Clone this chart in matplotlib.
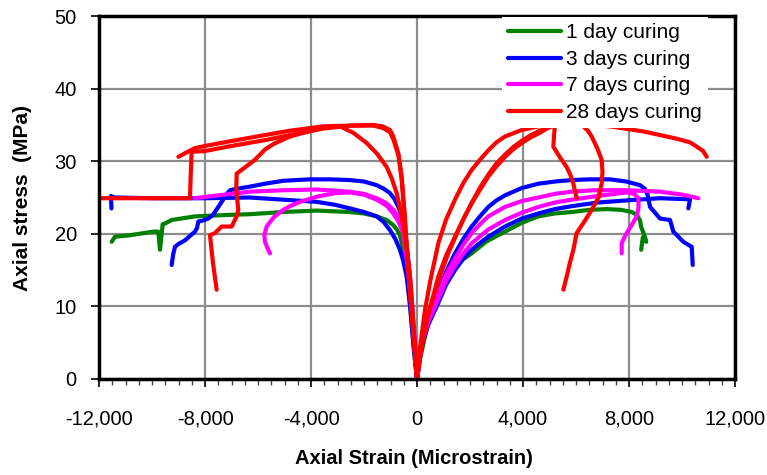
import matplotlib
matplotlib.use("Agg")
import matplotlib.pyplot as plt
from matplotlib.ticker import MultipleLocator, FuncFormatter

# ---- Stress-strain data (strain in microstrain, stress in MPa) ----
# Negative strain = lateral, positive strain = axial

# 1 day curing
d1_lat_strain = [0, -60, -138, -260, -390, -520, -642, -760, -893, -1150, -1522, -2000,
                 -2529, -3786, -5046, -6302, -7121, -8378, -9258, -9520, -9597, -9699,
                 -9762, -9950, -10832, -11397, -11523]
d1_lat_stress = [0, 2.0, 4.9, 10.2, 15.0, 17.8, 19.8, 20.6, 21.2, 21.9, 22.4, 22.8,
                 23.0, 23.2, 23.0, 22.7, 22.6, 22.4, 21.9, 21.4, 21.3, 17.8,
                 20.3, 20.3, 19.8, 19.6, 18.9]
d1_ax_strain = [0, 100, 250, 400, 600, 900, 1200, 1434, 1750, 2063, 2600, 3321, 3950,
                4579, 5200, 5837, 6500, 7159, 7700, 8103, 8300, 8420, 8454, 8600, 8650,
                8520, 8460]
d1_ax_stress = [0, 2.5, 5.0, 7.5, 10.0, 12.8, 14.6, 15.5, 16.5, 17.3, 18.9, 20.3, 21.5,
                22.4, 22.8, 23.0, 23.3, 23.4, 23.3, 23.0, 22.6, 21.8, 21.0, 19.6, 18.9,
                19.5, 17.8]

# 3 days curing (two specimens)
d3a_lat_strain = [0, -60, -138, -230, -328, -420, -516, -605, -705, -850, -1019, -1250,
                  -1522, -2000, -2529, -3300, -4038, -5046, -5737, -6302, -6800, -7058,
                  -7150, -7246, -7498, -7700, -7876, -8100, -8253, -8300, -8378, -8600,
                  -8756, -9000, -9133, -9200, -9258]
d3a_lat_stress = [0, 3.0, 7.2, 12.0, 16.4, 19.2, 21.4, 22.7, 23.7, 24.8, 25.6, 26.2,
                  26.7, 27.2, 27.4, 27.5, 27.5, 27.3, 26.9, 26.5, 26.2, 26.0,
                  25.6, 25.1, 23.7, 22.6, 22.1, 21.8, 21.7, 20.8, 20.3, 19.6,
                  19.1, 18.6, 18.2, 17.2, 15.7]
d3b_lat_strain = [0, -60, -138, -260, -390, -520, -642, -820, -1019, -1250, -1522, -2000,
                  -2529, -3100, -3786, -5046, -6302, -8000, -10000, -11400, -11548, -11530]
d3b_lat_stress = [0, 2.0, 4.9, 10.0, 14.1, 16.3, 17.8, 19.3, 20.5, 21.6, 22.4, 23.0,
                  23.5, 24.0, 24.4, 24.7, 25.0, 24.9, 24.9, 25.0, 25.2, 23.5]
d3a_ax_strain = [0, 176, 428, 805, 1100, 1434, 1750, 2063, 2400, 2692, 3000, 3321, 3950,
                 4579, 5200, 5837, 6500, 7284, 7900, 8416, 8600, 8700, 8794, 9171, 9548,
                 9673, 10050, 10367, 10405]
d3a_ax_stress = [0, 5.2, 8.5, 11.8, 14.8, 17.3, 19.3, 21.0, 22.5, 23.7, 24.6, 25.3, 26.3,
                 26.9, 27.2, 27.4, 27.5, 27.5, 27.2, 26.7, 26.2, 25.4, 23.7, 22.1, 21.9,
                 20.3, 18.9, 18.2, 15.7]
d3b_ax_strain = [0, 176, 428, 805, 1100, 1434, 1750, 2063, 2400, 2692, 3321, 3950, 4579,
                 5200, 5837, 6800, 7914, 9171, 10303, 10239]
d3b_ax_stress = [0, 4.5, 7.5, 10.5, 13.0, 15.0, 16.6, 17.8, 18.8, 19.6, 21.0, 22.1, 22.8,
                 23.4, 23.8, 24.3, 24.6, 24.9, 24.75, 23.5]

# 7 days curing (two specimens)
d7a_lat_strain = [0, -100, -200, -300, -390, -480, -579, -720, -893, -1150, -1522, -2000,
                  -2529, -3786, -5046, -6302, -7500, -8400]
d7a_lat_stress = [0, 5.0, 9.5, 13.4, 16.4, 19.0, 21.0, 22.4, 23.3, 24.2, 24.9, 25.5,
                  25.8, 26.1, 26.0, 25.8, 25.3, 24.9]
d7b_lat_strain = [0, -130, -264, -390, -516, -700, -893, -1150, -1522, -2000, -2529,
                  -3100, -3786, -4416, -4800, -5046, -5400, -5674, -5760, -5737, -5640,
                  -5548]
d7b_lat_stress = [0, 7.5, 14.1, 17.6, 20.1, 21.7, 22.8, 23.9, 24.7, 25.4, 25.7,
                  25.6, 25.1, 24.4, 23.8, 23.3, 22.3, 21.0, 19.8, 18.9, 18.0, 17.3]
d7a_ax_strain = [0, 176, 428, 805, 1100, 1434, 1750, 2063, 2400, 2692, 3321, 3950, 4579,
                 5200, 5837, 6654, 7914, 9171, 10000, 10617]
d7a_ax_stress = [0, 5.0, 8.3, 11.8, 14.4, 16.6, 18.5, 20.1, 21.4, 22.4, 23.7, 24.5, 25.0,
                 25.5, 25.8, 26.0, 26.0, 25.8, 25.4, 24.9]
d7b_ax_strain = [0, 176, 428, 805, 1100, 1434, 1750, 2063, 2692, 3321, 3950, 4579, 5200,
                 5837, 7000, 7914, 8200, 8353, 8360, 8290, 8100, 7914, 7800, 7725, 7725]
d7b_ax_stress = [0, 4.8, 7.9, 11.0, 13.5, 15.6, 17.3, 18.7, 20.6, 21.9, 22.9, 23.7, 24.3,
                 24.7, 25.3, 25.7, 25.5, 24.9, 23.6, 22.4, 21.2, 20.1, 19.3, 18.7, 17.3]

# 28 days curing (three specimens)
d28a_lat_strain = [0, -100, -200, -300, -390, -480, -579, -700, -893, -1019, -1300, -1649,
                   -2529, -3535, -4793, -5737, -7000, -8000, -8504, -8540, -8567, -11960]
d28a_lat_stress = [0, 4.8, 9.5, 14.2, 18.7, 23.5, 27.9, 31.0, 33.4, 34.3, 34.8, 35.0,
                   34.9, 34.5, 33.6, 32.9, 32.1, 31.4, 31.3, 28.0, 24.9, 24.9]
d28b_lat_strain = [0, -100, -200, -300, -390, -480, -579, -700, -893, -1019, -1300, -1649,
                   -2500, -3535, -4793, -5737, -7121, -8000, -8378, -8700, -9006]
d28b_lat_stress = [0, 4.5, 9.0, 13.5, 18.0, 22.8, 27.5, 30.8, 33.0, 34.0, 34.6, 34.9,
                   34.9, 34.8, 34.2, 33.6, 32.7, 32.1, 31.8, 31.2, 30.6]
d28c_lat_strain = [0, -130, -264, -390, -516, -640, -767, -950, -1144, -1500, -1898,
                   -2400, -2906, -3535, -4200, -4793, -5400, -5737, -6114, -6400, -6617,
                   -6805, -6820, -6743, -6805, -6994, -7371, -7624, -7812, -7700, -7560]
d28c_lat_stress = [0, 7.5, 14.1, 18.0, 21.0, 23.5, 25.6, 27.6, 29.2, 31.0, 32.5,
                   33.9, 34.8, 34.6, 34.0, 33.4, 32.4, 31.6, 30.2, 29.4, 28.8,
                   28.3, 26.0, 23.3, 22.4, 21.0, 21.0, 20.1, 19.8, 16.0, 12.3]
d28a_ax_strain = [0, 120, 302, 500, 805, 1100, 1434, 1750, 2063, 2400, 2692, 3000, 3321,
                  3950, 4579, 5200, 5837, 6500, 7284, 8541, 9800, 10300, 10556, 10800,
                  10933]
d28a_ax_stress = [0, 4.5, 9.5, 13.5, 18.7, 22.0, 24.7, 27.0, 28.8, 30.3, 31.5, 32.6, 33.4,
                  34.3, 34.8, 35.0, 35.1, 35.0, 34.8, 34.1, 33.1, 32.6, 32.0, 31.4,
                  30.6]
d28b_ax_strain = [0, 150, 400, 805, 1100, 1434, 1750, 2063, 2400, 2692, 3000, 3321, 3650,
                  3950, 4300, 4579, 4900, 5208, 5170, 5145, 5400, 5649, 5800, 5900, 6026]
d28b_ax_stress = [0, 4.0, 8.5, 14.1, 17.0, 19.6, 22.0, 24.2, 26.2, 27.9, 29.3, 30.6, 31.7,
                  32.5, 33.3, 33.8, 34.5, 35.0, 33.5, 32.0, 30.5, 29.2, 28.0, 26.9, 24.9]
d28c_ax_strain = [0, 150, 400, 900, 1200, 1500, 1800, 2100, 2400, 2700, 3000, 3321, 3650,
                  3950, 4300, 4579, 4900, 5208, 5600, 6000, 6277, 6450, 6592, 6800, 6969,
                  7000, 6969, 6850, 6592, 6300, 6026, 5900, 5770, 5649, 5523]
d28c_ax_stress = [0, 4.2, 8.8, 14.5, 17.5, 20.0, 22.4, 24.5, 26.5, 28.2, 29.7, 30.9, 32.0,
                  32.8, 33.6, 34.1, 34.6, 35.0, 35.1, 35.0, 34.8, 34.2, 33.4, 31.8, 30.2,
                  28.5, 26.9, 25.0, 23.3, 21.6, 20.1, 17.8, 16.0, 14.1, 12.3]

labels = ["1 day curing", "3 days curing", "7 days curing", "28 days curing"]
colors = ["#008000", "#0000FF", "#FF00FF", "#FF0000"]

groups = [
    [(d1_lat_strain, d1_lat_stress), (d1_ax_strain, d1_ax_stress)],
    [(d3a_lat_strain, d3a_lat_stress), (d3b_lat_strain, d3b_lat_stress),
     (d3a_ax_strain, d3a_ax_stress), (d3b_ax_strain, d3b_ax_stress)],
    [(d7a_lat_strain, d7a_lat_stress), (d7b_lat_strain, d7b_lat_stress),
     (d7a_ax_strain, d7a_ax_stress), (d7b_ax_strain, d7b_ax_stress)],
    [(d28a_lat_strain, d28a_lat_stress), (d28b_lat_strain, d28b_lat_stress),
     (d28c_lat_strain, d28c_lat_stress), (d28a_ax_strain, d28a_ax_stress),
     (d28b_ax_strain, d28b_ax_stress), (d28c_ax_strain, d28c_ax_stress)],
]

plt.rcParams["font.family"] = ["Liberation Sans", "DejaVu Sans"]

fig = plt.figure(figsize=(7.67, 4.75), dpi=100)
ax = fig.add_axes([99 / 767, 1 - 379 / 475, 636 / 767, 363 / 475])

for label, color, curves in zip(labels, colors, groups):
    for i, (xs, ys) in enumerate(curves):
        ax.plot(xs, ys, color=color, lw=3, solid_joinstyle="round",
                solid_capstyle="round", label=label if i == 0 else None, zorder=3)

ax.set_xlim(-12000, 12000)
ax.set_ylim(0, 50)
ax.xaxis.set_major_locator(MultipleLocator(4000))
ax.xaxis.set_minor_locator(MultipleLocator(500))
ax.yaxis.set_major_locator(MultipleLocator(10))
ax.xaxis.set_major_formatter(FuncFormatter(lambda v, p: f"{int(v):,}"))

ax.grid(True, which="major", color="#8c8c8c", lw=1.6, zorder=1)
for s in ax.spines.values():
    s.set_linewidth(2.5)
    s.set_color("black")
    s.set_zorder(4)

ax.tick_params(axis="x", which="major", direction="out", length=6, width=1.2,
               pad=16, labelsize=14.5, colors="black")
ax.tick_params(axis="x", which="minor", direction="out", length=4, width=1.0,
               colors="#444444")
ax.tick_params(axis="y", which="major", direction="out", length=6, width=1.2,
               pad=10, labelsize=14.5)

ax.set_xlabel("Axial Strain (Microstrain)", fontsize=14.5, fontweight="bold")
ax.xaxis.label.set_va("center")
ax.xaxis.set_label_coords(0.495, -0.218)
ax.set_ylabel("Axial stress  (MPa)", fontsize=15, fontweight="bold")
ax.yaxis.label.set_va("center")
ax.yaxis.set_label_coords(-0.1195, 0.4986)

leg = ax.legend(loc="upper right", bbox_to_anchor=(0.958, 0.997), borderaxespad=0,
                fontsize=15, handlelength=2.55, handletextpad=0.25,
                labelspacing=0.36, frameon=True, fancybox=False, framealpha=1,
                edgecolor="none", facecolor="white", borderpad=0.3)
leg.set_zorder(5)
for h in leg.get_lines():
    h.set_linewidth(3)

fig.savefig("out.png", dpi=100)
